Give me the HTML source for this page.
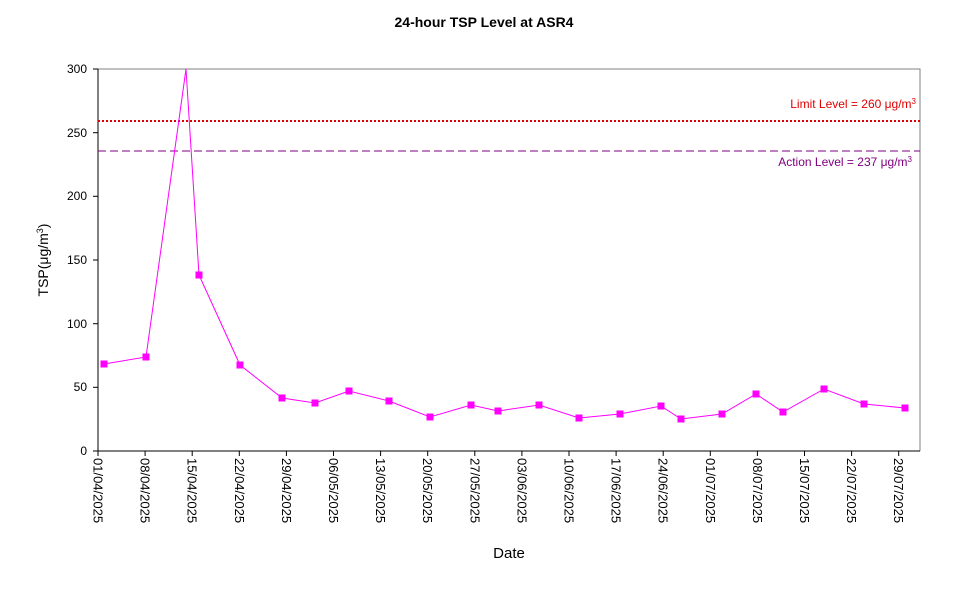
<!DOCTYPE html>
<html><head><meta charset="utf-8"><style>body{margin:0;background:#fff}svg{display:block;font-family:"Liberation Sans",Arial,sans-serif}</style></head>
<body>
<svg width="967" height="590" viewBox="0 0 967 590" xmlns="http://www.w3.org/2000/svg">
<rect width="967" height="590" fill="#fff"/>
<text x="484" y="27" text-anchor="middle" font-size="14" font-weight="bold">24-hour TSP Level at ASR4</text>
<polyline points="98,69 920,69 920,451" fill="none" stroke="#808080" stroke-width="1"/>
<line x1="98" y1="69" x2="98" y2="451" stroke="#000"/>
<line x1="98" y1="451" x2="920" y2="451" stroke="#000"/>
<g stroke="#000">
<line x1="93" y1="69" x2="98" y2="69"/><line x1="93" y1="132.7" x2="98" y2="132.7"/><line x1="93" y1="196.3" x2="98" y2="196.3"/><line x1="93" y1="260" x2="98" y2="260"/><line x1="93" y1="323.7" x2="98" y2="323.7"/><line x1="93" y1="387.3" x2="98" y2="387.3"/><line x1="93" y1="451" x2="98" y2="451"/>
</g>
<g font-size="12" text-anchor="end">
<text x="87" y="73">300</text><text x="87" y="137">250</text><text x="87" y="200">200</text><text x="87" y="264">150</text><text x="87" y="328">100</text><text x="87" y="391">50</text><text x="87" y="455">0</text>
</g>
<text transform="translate(48,260) rotate(-90)" text-anchor="middle" font-size="14">TSP(μg/m<tspan font-size="9" dy="-5">3</tspan><tspan dy="5">)</tspan></text>
<g stroke="#000">
<line x1="98" y1="451" x2="98" y2="456"/><line x1="145.1" y1="451" x2="145.1" y2="456"/><line x1="192.2" y1="451" x2="192.2" y2="456"/><line x1="239.3" y1="451" x2="239.3" y2="456"/><line x1="286.4" y1="451" x2="286.4" y2="456"/><line x1="333.5" y1="451" x2="333.5" y2="456"/><line x1="380.6" y1="451" x2="380.6" y2="456"/><line x1="427.7" y1="451" x2="427.7" y2="456"/><line x1="474.8" y1="451" x2="474.8" y2="456"/><line x1="521.9" y1="451" x2="521.9" y2="456"/><line x1="569" y1="451" x2="569" y2="456"/><line x1="616.1" y1="451" x2="616.1" y2="456"/><line x1="663.2" y1="451" x2="663.2" y2="456"/><line x1="710.3" y1="451" x2="710.3" y2="456"/><line x1="757.4" y1="451" x2="757.4" y2="456"/><line x1="804.5" y1="451" x2="804.5" y2="456"/><line x1="851.6" y1="451" x2="851.6" y2="456"/><line x1="898.7" y1="451" x2="898.7" y2="456"/>
</g>
<g font-size="13">
<text transform="translate(93.5,458) rotate(90)">01/04/2025</text>
<text transform="translate(140.6,458) rotate(90)">08/04/2025</text>
<text transform="translate(187.7,458) rotate(90)">15/04/2025</text>
<text transform="translate(234.8,458) rotate(90)">22/04/2025</text>
<text transform="translate(281.9,458) rotate(90)">29/04/2025</text>
<text transform="translate(329,458) rotate(90)">06/05/2025</text>
<text transform="translate(376.1,458) rotate(90)">13/05/2025</text>
<text transform="translate(423.2,458) rotate(90)">20/05/2025</text>
<text transform="translate(470.3,458) rotate(90)">27/05/2025</text>
<text transform="translate(517.4,458) rotate(90)">03/06/2025</text>
<text transform="translate(564.5,458) rotate(90)">10/06/2025</text>
<text transform="translate(611.6,458) rotate(90)">17/06/2025</text>
<text transform="translate(658.7,458) rotate(90)">24/06/2025</text>
<text transform="translate(705.8,458) rotate(90)">01/07/2025</text>
<text transform="translate(752.9,458) rotate(90)">08/07/2025</text>
<text transform="translate(800,458) rotate(90)">15/07/2025</text>
<text transform="translate(847.1,458) rotate(90)">22/07/2025</text>
<text transform="translate(894.2,458) rotate(90)">29/07/2025</text>
</g>
<text x="509" y="558" text-anchor="middle" font-size="15">Date</text>
<line x1="98" y1="121" x2="920" y2="121" stroke="#e00000" stroke-width="2" stroke-dasharray="2,2"/>
<line x1="98" y1="151" x2="920" y2="151" stroke="#800080" stroke-width="1" stroke-dasharray="8,4"/>
<text x="916" y="108" text-anchor="end" font-size="12" fill="#e00000">Limit Level  = 260 μg/m<tspan font-size="8" dy="-4">3</tspan></text>
<text x="912" y="166" text-anchor="end" font-size="12" fill="#800080">Action Level  = 237 μg/m<tspan font-size="8" dy="-4">3</tspan></text>
<polyline fill="none" stroke="#ff00ff" stroke-width="1" points="104,364 146,357 186,69 199,275 240,365 282,398 315,403 349,391 389,401 430,417 471,405 498,411 539,405 579,418 620,414 661,406 681,419 722,414 756,394 783,412 824,389 864,404 905,408"/>
<g fill="#ff00ff">
<rect x="100.5" y="360.5" width="7" height="7"/><rect x="142.5" y="353.5" width="7" height="7"/><rect x="195.5" y="271.5" width="7" height="7"/><rect x="236.5" y="361.5" width="7" height="7"/><rect x="278.5" y="394.5" width="7" height="7"/><rect x="311.5" y="399.5" width="7" height="7"/><rect x="345.5" y="387.5" width="7" height="7"/><rect x="385.5" y="397.5" width="7" height="7"/><rect x="426.5" y="413.5" width="7" height="7"/><rect x="467.5" y="401.5" width="7" height="7"/><rect x="494.5" y="407.5" width="7" height="7"/><rect x="535.5" y="401.5" width="7" height="7"/><rect x="575.5" y="414.5" width="7" height="7"/><rect x="616.5" y="410.5" width="7" height="7"/><rect x="657.5" y="402.5" width="7" height="7"/><rect x="677.5" y="415.5" width="7" height="7"/><rect x="718.5" y="410.5" width="7" height="7"/><rect x="752.5" y="390.5" width="7" height="7"/><rect x="779.5" y="408.5" width="7" height="7"/><rect x="820.5" y="385.5" width="7" height="7"/><rect x="860.5" y="400.5" width="7" height="7"/><rect x="901.5" y="404.5" width="7" height="7"/>
</g>
</svg>
</body></html>
